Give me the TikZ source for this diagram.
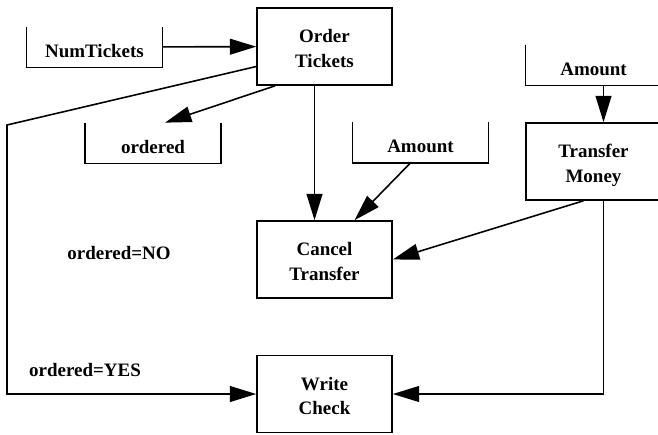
\documentclass[tikz,border=0pt]{standalone}
\usepackage{fontspec}
\setmainfont{Liberation Serif}
\usetikzlibrary{arrows.meta,calc}

\begin{document}
\begin{tikzpicture}[x=0.02cm,y=-0.02cm,
  every node/.style={font=\fontsize{10.8}{13.7}\selectfont\bfseries},
  box/.style={draw,line width=0.9pt,minimum width=2.7cm,minimum height=1.54cm,align=center,inner sep=0pt,text height=23.4pt,text depth=0pt},
  store/.style={minimum width=2.7cm,minimum height=0.8cm,inner sep=0pt,text height=11.4pt,text depth=0pt},
  wall/.style={line width=0.9pt},
  flow/.style={line width=0.9pt,-{Triangle[length=15pt,width=9pt]}}]
\useasboundingbox (0,0) rectangle (658,434);

\node[box] (order) at (324.5,46.5) {Order\\Tickets};
\node[box] (cancel) at (324.5,259.5) {Cancel\\Transfer};
\node[box] (write) at (324.5,394) {Write\\Check};
\node[box] (transfer) at (593.5,161.5) {Transfer\\Money};

\node[store] (numtix) at (94.5,47) {NumTickets};
\node[store] (ordered) at (153,143) {ordered};
\node[store] (amtc) at (420.5,142.5) {Amount};
\node[store] (amtt) at (593.5,65) {Amount};

\foreach \s in {numtix,ordered,amtc,amtt}
  \draw[wall] (\s.north west) |- (\s.south east) -- (\s.north east);

\node (no) at (119,253) {ordered=NO};
\node (yes) at (85,370) {ordered=YES};

\coordinate (bend) at (7,125);

\draw[flow] (numtix) -- (order);
\draw[flow] ($(order.south west)+(19,0)$) -- ($(ordered.north)+(12,0)$);
\draw[flow] ($(order.south)+(-10,0)$) -- ($(cancel.north)+(-10,0)$);
\draw[flow] ($(amtc.south)+(-10,0)$) -- ($(cancel.north)+(30,0)$);
\draw[flow] ($(transfer.south)+(-10,0)$) -- (cancel.east);
\draw[flow] ($(amtt.south)+(10,0)$) -- ($(transfer.north)+(10,0)$);
\draw[flow] ($(transfer.south)+(10,0)$) |- (write.east);
\draw[flow] ($(order.west)+(0,20)$) -- (bend) |- (write.west);

\end{tikzpicture}
\end{document}
